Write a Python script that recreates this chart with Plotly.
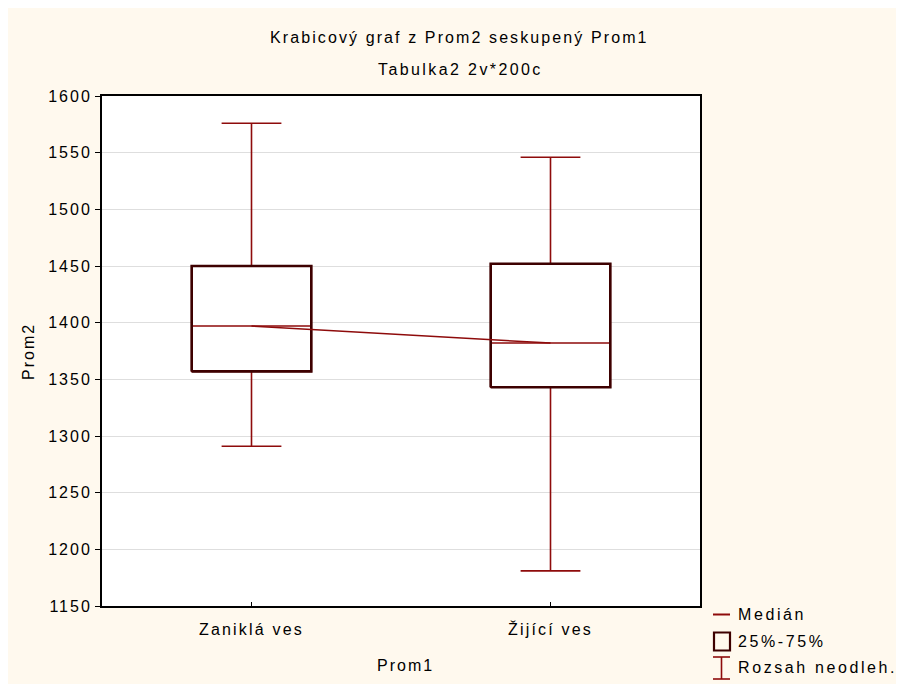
import plotly.graph_objects as go

# ---- data ----
categories = ["Zaniklá ves", "Žijící ves"]
whisker_min = [1291, 1181]
quart1 = [1357, 1343]
medians = [1397, 1382]
quart3 = [1450, 1452]
whisker_max = [1576, 1546]
y_ticks = [1150, 1200, 1250, 1300, 1350, 1400, 1450, 1500, 1550, 1600]

title1 = "Krabicový graf z Prom2 seskupený Prom1"
title2 = "Tabulka2 2v*200c"
x_title = "Prom1"
y_title = "Prom2"
legend_labels = ["Medián", "25%-75%", "Rozsah neodleh."]

# ---- style ----
OFF = 8  # page body margin: the figure starts 8 px in from the window corner
W, H = 904 - OFF, 684 - OFF
ML, MR, MT, MB = 94, 204, 88, 78
RED = "#8E0B0B"
DARK = "#3D0000"
CREAM = "#FFF9EE"
FONT = "Liberation Sans, Arial, sans-serif"
FS = 16
LS = 2.0
BOX_W = 0.4


def sp(t, ls=LS):
    return f'<span style="letter-spacing:{ls}px">{t}</span>'


PW = W - ML - MR
PH = H - MT - MB


def px_x(px):
    # px is a window pixel x of the reference picture
    return (px - OFF - ML) / PW


def px_y(py):
    return (H - MB - (py - OFF)) / PH


xpos = list(range(len(categories)))

fig = go.Figure()

# boxes with whiskers (red)
fig.add_trace(go.Box(
    x=xpos, q1=quart1, median=medians, q3=quart3,
    lowerfence=whisker_min, upperfence=whisker_max,
    line=dict(color=RED, width=1.6), fillcolor="white",
    whiskerwidth=0.5, width=BOX_W, boxpoints=False,
    showlegend=False, hoverinfo="skip",
))

# dark outline of the 25%-75% boxes
bx, by = [], []
hw = BOX_W / 2
for i, a, b in zip(xpos, quart1, quart3):
    bx += [i - hw, i + hw, i + hw, i - hw, i - hw, None]
    by += [a, a, b, b, a, None]
fig.add_trace(go.Scatter(x=bx, y=by, mode="lines",
                         line=dict(color=DARK, width=2.6),
                         showlegend=False, hoverinfo="skip"))

# line connecting medians
fig.add_trace(go.Scatter(x=xpos, y=medians, mode="lines",
                         line=dict(color=RED, width=1.5),
                         showlegend=False, hoverinfo="skip"))

axis_font = dict(family=FONT, size=FS, color="black")

fig.update_xaxes(
    range=[-0.5, len(categories) - 0.5], tickmode="array", tickvals=xpos,
    ticktext=[sp(c, 2.2) for c in categories], ticks="inside", ticklen=4,
    tickcolor="black", showgrid=False, zeroline=False,
    showline=True, linecolor="black", linewidth=2, mirror=True,
    tickfont=axis_font, ticklabelstandoff=8,
)
fig.update_yaxes(
    range=[y_ticks[0], y_ticks[-1]], tickmode="array", tickvals=y_ticks,
    ticktext=[sp(str(v)) for v in y_ticks], ticks="outside", ticklen=5,
    tickcolor="black", showgrid=True, gridcolor="#DEDEDE", gridwidth=1,
    zeroline=False, showline=True, linecolor="black", linewidth=2,
    mirror=True, tickfont=axis_font,
)

annotations = [
    dict(text=sp(title1, 2.1), x=px_x(459), y=px_y(38)),
    dict(text=sp(title2, 2.4), x=px_x(460), y=px_y(70)),
    dict(text=sp(x_title), x=px_x(405), y=px_y(665)),
    dict(text=sp(y_title), x=px_x(28), y=px_y(352), textangle=-90),
]
for t, yy in zip(legend_labels, [614, 641, 667]):
    annotations.append(dict(text=sp(t, 2.6), x=px_x(736), y=px_y(yy), xanchor="left"))
for a in annotations:
    a.update(xref="paper", yref="paper", showarrow=False,
             font=axis_font, yanchor="middle",
             xanchor=a.get("xanchor", "center"))

shapes = [
    # legend symbols
    dict(type="line", xref="paper", yref="paper", x0=px_x(713), x1=px_x(730),
         y0=px_y(614.5), y1=px_y(614.5), line=dict(color=RED, width=2)),
    dict(type="rect", xref="paper", yref="paper", x0=px_x(714), x1=px_x(730),
         y0=px_y(650.5), y1=px_y(632.5), line=dict(color=DARK, width=2.2)),
    dict(type="line", xref="paper", yref="paper", x0=px_x(721.5), x1=px_x(721.5),
         y0=px_y(657), y1=px_y(679), line=dict(color=RED, width=1.6)),
    dict(type="line", xref="paper", yref="paper", x0=px_x(713), x1=px_x(730),
         y0=px_y(657), y1=px_y(657), line=dict(color=RED, width=1.6)),
    dict(type="line", xref="paper", yref="paper", x0=px_x(713), x1=px_x(730),
         y0=px_y(679), y1=px_y(679), line=dict(color=RED, width=1.6)),
]

fig.update_layout(
    width=W, height=H,
    margin=dict(l=ML, r=MR, t=MT, b=MB, pad=0),
    paper_bgcolor=CREAM, plot_bgcolor="white",
    font=dict(family=FONT, size=FS, color="black"),
    annotations=annotations, shapes=shapes, showlegend=False,
)

fig.write_html("out.html")
